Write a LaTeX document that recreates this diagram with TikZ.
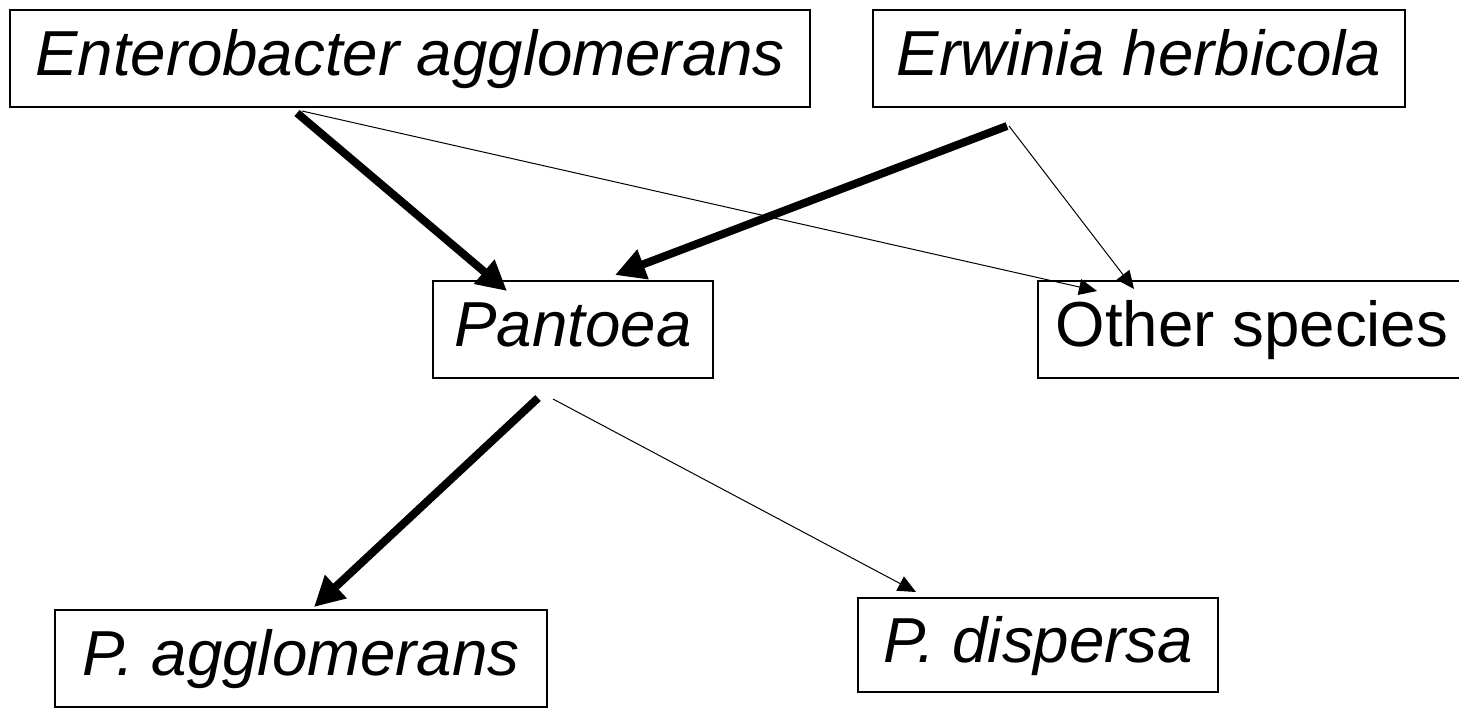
\documentclass[tikz,border=0pt]{standalone}
\usepackage{fontspec}
\setmainfont{Liberation Sans}
\usetikzlibrary{arrows.meta,calc}

\tikzset{
  box/.style={draw,line width=1pt,inner sep=0pt,minimum height=48.5pt,
    text height=23pt,text depth=6pt,font=\fontsize{31.8}{38}\selectfont\itshape},
  strong/.style={line width=4pt,-{Triangle[length=15pt,width=15pt]}},
  weak/.style={line width=0.5pt,-{Triangle[length=9pt,width=8pt]}}
}

\begin{document}
\begin{tikzpicture}[x=0.5pt,y=-0.5pt]
\useasboundingbox (0,0) rectangle (1459,707);
\node (ent) at (410,58.5) [box,minimum width=400pt] {Enterobacter agglomerans};
\node (erw) at (1139,58.5) [box,minimum width=266pt] {Erwinia herbicola};
\node (pan) at (573,329.5) [box,minimum width=140pt] {Pantoea};
\node (oth) at (1252,329.5) [box,minimum width=214pt,font=\fontsize{31.8}{38}\selectfont] {Other species};
\node (pag) at (301,658.5) [box,minimum width=246pt] {P. agglomerans};
\node (pdi) at (1038,645) [box,minimum width=180pt,minimum height=47pt] {P. dispersa};
\draw[strong] ($(ent.south west)+(288,5)$) -- ($(pan.north west)+(75,11)$);
\draw[weak]   ($(ent.south west)+(293,3)$) -- ($(oth.north west)+(60,11)$);
\draw[strong] ($(erw.south west)+(135,18)$) -- ($(pan.north west)+(183,-5)$);
\draw[weak]   ($(erw.south west)+(137,18)$) -- ($(oth.north west)+(97,9)$);
\draw[strong] ($(pan.south west)+(106,19)$) -- ($(pag.north west)+(260,-2)$);
\draw[weak]   ($(pan.south west)+(121,20)$) -- ($(pdi.north west)+(59,-5)$);
\end{tikzpicture}
\end{document}
